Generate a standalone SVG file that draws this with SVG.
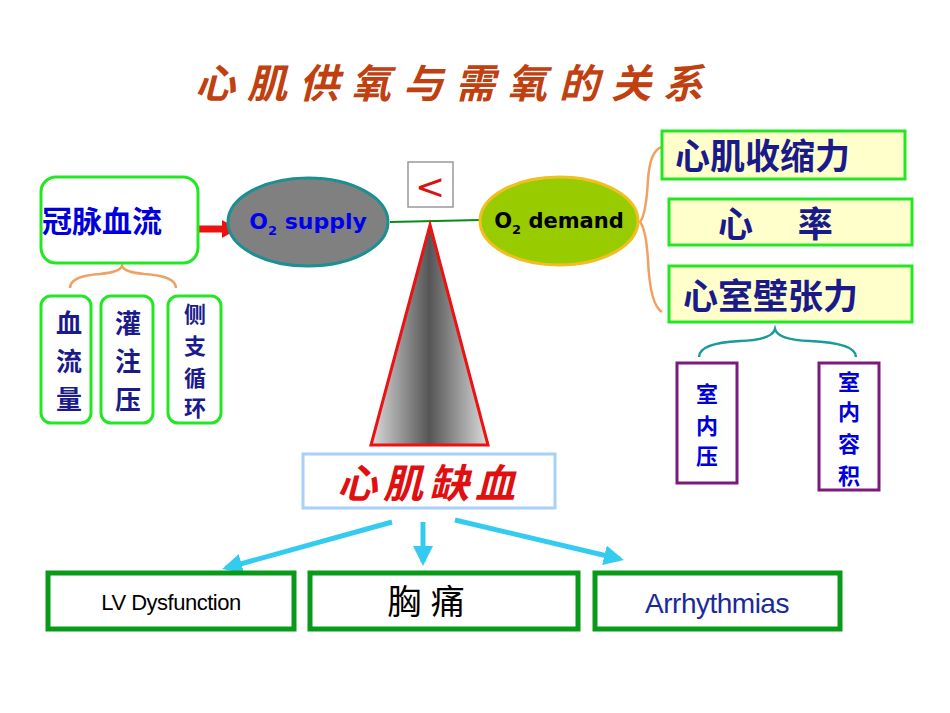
<svg xmlns="http://www.w3.org/2000/svg" width="950" height="713" viewBox="0 0 950 713">
<defs>
<style>
.cjk{font-family:"Liberation Sans","Noto Sans CJK SC",sans-serif;font-weight:bold}
.g{fill:#fff;stroke:#22e822;stroke-width:3}
.y{fill:#ffffcc;stroke:#22e822;stroke-width:3}
.p{fill:#fff;stroke:#7b1a7b;stroke-width:3}
.b{fill:#fff;stroke:#0a9a1a;stroke-width:5}
.nv{fill:#1a1a8a}
.bl{fill:#0000dd}
</style>
<linearGradient id="tri" x1="0" x2="1" y1="0" y2="0">
<stop offset="0" stop-color="#dcdcdc"/><stop offset="0.5" stop-color="#555"/><stop offset="1" stop-color="#dcdcdc"/>
</linearGradient>
<marker id="ac" viewBox="0 0 10 10" refX="8" refY="5" markerWidth="4" markerHeight="4" orient="auto"><path d="M0,0L10,5L0,10z" fill="#33ccf0"/></marker>
</defs>
<text x="455" y="98" text-anchor="middle" class="cjk" font-size="40" letter-spacing="12" fill="#c04010" font-style="italic">心肌供氧与需氧的关系</text>
<g id="connectors">
<line x1="390" y1="222" x2="480" y2="220" stroke="#0a8a1a" stroke-width="2"/>
<path d="M199,229H228" stroke="#ee1111" stroke-width="7"/>
<path d="M222,220L238,229L222,238z" fill="#ee1111"/>
<path d="M70,288Q70,276 100,274Q120,272 122,266Q124,272 144,274Q176,276 176,288" fill="none" stroke="#f0a060" stroke-width="2.5"/>
<path d="M662,147Q650,150 648,180Q646,215 640,222Q646,229 648,260Q650,305 662,312" fill="none" stroke="#f0a060" stroke-width="2.5"/>
<path d="M699,357Q699,343 740,341Q772,340 775,329Q778,340 810,341Q856,343 856,357" fill="none" stroke="#1a9a9a" stroke-width="2.5"/>
<g stroke="#33ccf0" stroke-width="5" marker-end="url(#ac)">
<line x1="392" y1="522" x2="226" y2="568"/>
<line x1="423" y1="522" x2="423" y2="562"/>
<line x1="455" y1="520" x2="620" y2="559"/>
</g>
</g>
<g id="lt"><rect x="408" y="162" width="45" height="45" fill="#fff" stroke="#999" stroke-width="1.5"/><text x="430" y="199" text-anchor="middle" font-family="DejaVu Sans,sans-serif" font-size="36" fill="#e01010">&lt;</text></g>
<g id="fulcrum"><path d="M430,225L488,445H371z" fill="url(#tri)" stroke="#ee1111" stroke-width="3"/></g>
<g id="coronary"><rect x="41" y="177" width="157" height="86" rx="15" class="g"/><text x="42" y="232" class="cjk bl" font-size="30" font-weight="normal">冠脉血流</text></g>
<g id="s1"><rect x="41" y="296" width="50" height="127" rx="10" class="g"/><text class="cjk nv" font-size="26" text-anchor="middle"><tspan x="69" y="333">血</tspan><tspan x="69" y="371">流</tspan><tspan x="69" y="409">量</tspan></text></g>
<g id="s2"><rect x="101" y="296" width="52" height="127" rx="10" class="g"/><text class="cjk nv" font-size="26" text-anchor="middle"><tspan x="128" y="333">灌</tspan><tspan x="128" y="371">注</tspan><tspan x="128" y="409">压</tspan></text></g>
<g id="s3"><rect x="168" y="296" width="53" height="127" rx="10" class="g"/><text class="cjk nv" font-size="22" text-anchor="middle"><tspan x="195" y="322">侧</tspan><tspan x="195" y="354">支</tspan><tspan x="195" y="386">循</tspan><tspan x="195" y="416">环</tspan></text></g>
<g id="supply"><ellipse cx="308" cy="222" rx="80" ry="44" fill="#808080" stroke="#1a9090" stroke-width="3"/><text x="308" y="229" text-anchor="middle" font-family="DejaVu Sans,sans-serif" font-weight="bold" font-size="22" fill="#0000ee">O<tspan font-size="13" dy="6">2</tspan><tspan dy="-6"> supply</tspan></text></g>
<g id="demand"><ellipse cx="559" cy="221" rx="79" ry="44" fill="#99cc00" stroke="#f0c020" stroke-width="3"/><text x="559" y="228" text-anchor="middle" font-family="DejaVu Sans,sans-serif" font-weight="bold" font-size="21" fill="#000">O<tspan font-size="13" dy="6">2</tspan><tspan dy="-6"> demand</tspan></text></g>
<g id="r1"><rect x="662" y="131" width="243" height="48" class="y"/><text x="675" y="169" class="cjk nv" font-size="35">心肌收缩力</text></g>
<g id="r2"><rect x="669" y="199" width="243" height="46" class="y"/><text x="718" y="237" class="cjk nv" font-size="35">心　 率</text></g>
<g id="r3"><rect x="669" y="266" width="243" height="56" class="y"/><text x="683" y="309" class="cjk nv" font-size="35">心室壁张力</text></g>
<g id="p1"><rect x="677" y="363" width="60" height="120" class="p"/><text class="cjk bl" font-size="22" font-weight="normal" text-anchor="middle"><tspan x="707" y="402">室</tspan><tspan x="707" y="434">内</tspan><tspan x="707" y="464">压</tspan></text></g>
<g id="p2"><rect x="819" y="363" width="60" height="127" class="p"/><text class="cjk bl" font-size="22" font-weight="normal" text-anchor="middle"><tspan x="849" y="390">室</tspan><tspan x="849" y="420">内</tspan><tspan x="849" y="452">容</tspan><tspan x="849" y="484">积</tspan></text></g>
<g id="isch"><rect x="303" y="454" width="252" height="54" fill="#fff" stroke="#a8d0f8" stroke-width="3"/><text x="429" y="498" text-anchor="middle" class="cjk" font-size="40" letter-spacing="6" fill="#e01010" font-style="italic">心肌缺血</text></g>
<g id="lv"><rect x="48" y="573" width="246" height="56" class="b"/><text x="171" y="610" text-anchor="middle" font-family="Liberation Sans,sans-serif" font-size="22" letter-spacing="-0.5" fill="#000">LV Dysfunction</text></g>
<g id="cp"><rect x="310" y="573" width="268" height="56" class="b"/><text x="426" y="614" text-anchor="middle" font-family="Liberation Sans,'Noto Sans CJK SC',sans-serif" font-size="34" fill="#000">胸 痛</text></g>
<g id="ar"><rect x="595" y="573" width="245" height="56" class="b"/><text x="717" y="613" text-anchor="middle" font-family="Liberation Sans,sans-serif" font-size="28" letter-spacing="-0.5" fill="#1a2a9a">Arrhythmias</text></g>
</svg>
